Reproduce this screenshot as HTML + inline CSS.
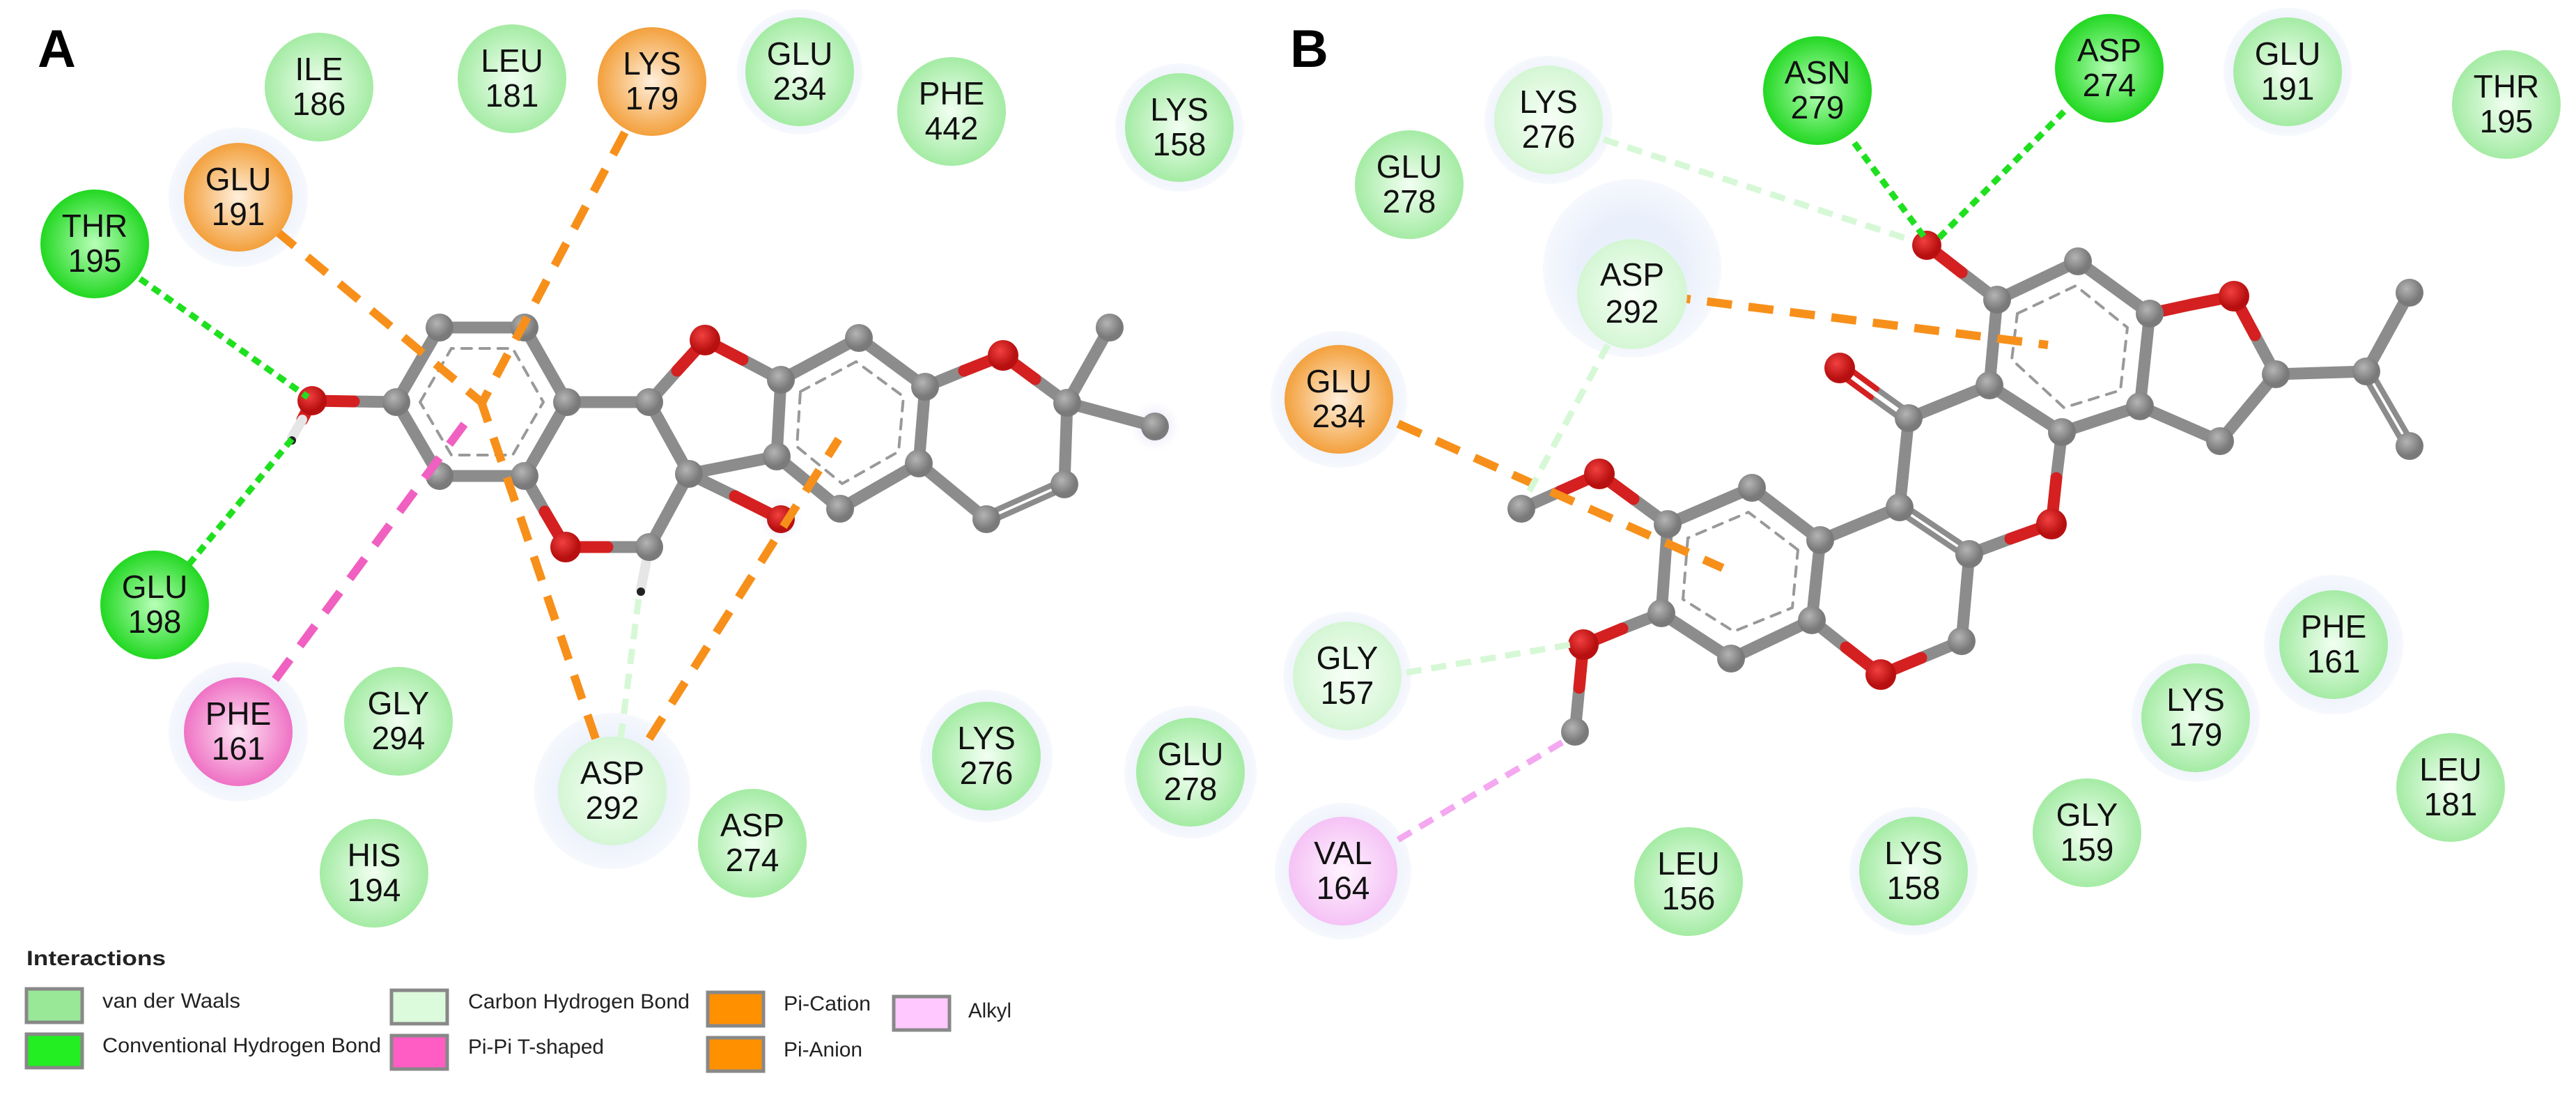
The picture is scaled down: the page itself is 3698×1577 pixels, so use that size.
<!DOCTYPE html>
<html><head><meta charset="utf-8"><style>
html,body{margin:0;padding:0;background:#fff;}
svg{display:block;}
.r text{font-family:"Liberation Sans",sans-serif;font-size:46px;fill:#111;text-anchor:middle;}
.lg{font-family:"Liberation Sans",sans-serif;font-size:30px;fill:#222;}
</style></head><body>
<svg width="3698" height="1577" viewBox="0 0 3698 1577" xmlns="http://www.w3.org/2000/svg">
<defs>
<radialGradient id="vdw"><stop offset="0" stop-color="#f2fff2"/><stop offset="1" stop-color="#a4eba4"/></radialGradient>
<radialGradient id="hb"><stop offset="0" stop-color="#b8ffb8"/><stop offset="1" stop-color="#22d822"/></radialGradient>
<radialGradient id="or"><stop offset="0" stop-color="#fff0dc"/><stop offset="1" stop-color="#f3a03c"/></radialGradient>
<radialGradient id="pk"><stop offset="0" stop-color="#fde4f4"/><stop offset="1" stop-color="#ef72c4"/></radialGradient>
<radialGradient id="lt"><stop offset="0" stop-color="#f8fff8"/><stop offset="1" stop-color="#d4f6d4"/></radialGradient>
<radialGradient id="al"><stop offset="0" stop-color="#fff4ff"/><stop offset="1" stop-color="#f5c2f5"/></radialGradient>
<radialGradient id="gy" cx="0.4" cy="0.35"><stop offset="0" stop-color="#b4b4b4"/><stop offset="1" stop-color="#7a7a7a"/></radialGradient>
<radialGradient id="rd" cx="0.4" cy="0.35"><stop offset="0" stop-color="#f24040"/><stop offset="1" stop-color="#b81010"/></radialGradient>
<radialGradient id="halo"><stop offset="0.6" stop-color="#eaf0fb"/><stop offset="1" stop-color="#f6f8fd"/></radialGradient>
<radialGradient id="glow"><stop offset="0" stop-color="#c8c8f4"/><stop offset="1" stop-color="#ffffff" stop-opacity="0"/></radialGradient>
</defs>

<!-- halos -->
<g fill="url(#halo)">
<circle cx="342" cy="283" r="100"/>
<circle cx="342" cy="1050" r="100"/>
<circle cx="879" cy="1135" r="112"/>
<circle cx="1416" cy="1085" r="95"/>
<circle cx="1709" cy="1108" r="95"/>
<circle cx="1693" cy="183" r="92"/>
<circle cx="1148" cy="103" r="90"/>
<circle cx="2343" cy="385" r="128"/>
<circle cx="2223" cy="172" r="92"/>
<circle cx="1922" cy="573" r="98"/>
<circle cx="1934" cy="970" r="92"/>
<circle cx="1928" cy="1250" r="98"/>
<circle cx="3284" cy="103" r="92"/>
<circle cx="3350" cy="925" r="100"/>
<circle cx="3152" cy="1030" r="92"/>
<circle cx="2747" cy="1250" r="92"/>
</g>
<circle cx="1658" cy="612" r="40" fill="url(#glow)"/>
<circle cx="1121" cy="745" r="36" fill="url(#glow)"/>

<!-- Ligand A -->
<g stroke-linecap="round" fill="none">
<g stroke="#8c8c8c" stroke-width="17">
<polyline points="569,577 631,470 753,470 814,577 753,683 631,683 569,577"/>
<line x1="508" y1="576" x2="569" y2="577"/>
<line x1="753" y1="683" x2="782" y2="734"/>
<line x1="872" y1="785" x2="932" y2="785"/>
<line x1="932" y1="785" x2="989" y2="680"/>
<line x1="814" y1="577" x2="932" y2="577"/>
<line x1="932" y1="577" x2="972" y2="532"/>
<line x1="1066" y1="516" x2="1121" y2="545"/>
<line x1="932" y1="577" x2="989" y2="680"/>
<line x1="989" y1="680" x2="1115" y2="655"/>
<line x1="989" y1="680" x2="1055" y2="712"/>
<polyline points="1121,545 1233,485 1328,555 1319,665 1206,730 1115,655 1121,545"/>
<line x1="1328" y1="555" x2="1384" y2="532"/>
<line x1="1486" y1="544" x2="1532" y2="578"/>
<line x1="1532" y1="578" x2="1593" y2="470"/>
<line x1="1532" y1="578" x2="1658" y2="612"/>
<line x1="1532" y1="578" x2="1528" y2="695"/>
<line x1="1416" y1="745" x2="1319" y2="665"/>
</g>
<g stroke="#8c8c8c" stroke-width="8">
<line x1="1530" y1="700" x2="1418" y2="750"/>
<line x1="1526" y1="689" x2="1414" y2="739"/>
</g>
<g stroke="#d42020" stroke-width="17">
<line x1="448" y1="575" x2="508" y2="576"/>
<line x1="782" y1="734" x2="812" y2="785"/>
<line x1="812" y1="785" x2="872" y2="785"/>
<line x1="972" y1="532" x2="1012" y2="488"/>
<line x1="1012" y1="488" x2="1066" y2="516"/>
<line x1="1055" y1="712" x2="1121" y2="745"/>
<line x1="1384" y1="532" x2="1440" y2="510"/>
<line x1="1440" y1="510" x2="1486" y2="544"/>
<line x1="448" y1="575" x2="434" y2="602"/>
</g>
<g stroke="#e6e6e6" stroke-width="14">
<line x1="434" y1="602" x2="419" y2="628"/>
<line x1="932" y1="785" x2="920" y2="845"/>
</g>
<g stroke="#999" stroke-width="4" stroke-dasharray="14 12">
<polygon points="603,577 648,500 736,500 780,577 736,653 648,653"/>
<polygon points="1149,562 1229,519 1297,569 1290,648 1209,694 1144,641"/>
</g>
</g>
<circle cx="419" cy="632" r="6" fill="#222"/>
<circle cx="920" cy="849" r="6" fill="#222"/>
<g fill="url(#gy)">
<circle cx="569" cy="577" r="20"/><circle cx="631" cy="470" r="20"/><circle cx="753" cy="470" r="20"/>
<circle cx="814" cy="577" r="20"/><circle cx="753" cy="683" r="20"/><circle cx="631" cy="683" r="20"/>
<circle cx="932" cy="785" r="20"/><circle cx="932" cy="577" r="20"/><circle cx="1121" cy="545" r="20"/>
<circle cx="1115" cy="655" r="20"/><circle cx="989" cy="680" r="20"/><circle cx="1233" cy="485" r="20"/>
<circle cx="1328" cy="555" r="20"/><circle cx="1319" cy="665" r="20"/><circle cx="1206" cy="730" r="20"/>
<circle cx="1532" cy="578" r="20"/><circle cx="1593" cy="470" r="20"/><circle cx="1658" cy="612" r="20"/>
<circle cx="1528" cy="695" r="20"/><circle cx="1416" cy="745" r="20"/>
</g>
<g fill="url(#rd)">
<circle cx="448" cy="575" r="21"/><circle cx="812" cy="785" r="22"/><circle cx="1012" cy="488" r="22"/>
<circle cx="1121" cy="745" r="20"/><circle cx="1440" cy="510" r="22"/>
</g>

<!-- Ligand B -->
<g stroke-linecap="round" fill="none">
<g stroke="#8c8c8c" stroke-width="17">
<line x1="2816" y1="391" x2="2867" y2="430"/>
<polyline points="3086,450 2983,375 2867,430 2856,553 2960,620 3072,583 3086,450"/>
<line x1="3237" y1="481" x2="3267" y2="537"/>
<line x1="3267" y1="537" x2="3187" y2="633"/>
<line x1="3187" y1="633" x2="3072" y2="583"/>
<line x1="3267" y1="537" x2="3397" y2="533"/>
<line x1="3397" y1="533" x2="3459" y2="420"/>
<line x1="2856" y1="553" x2="2740" y2="600"/>
<line x1="2740" y1="600" x2="2727" y2="728"/>
<line x1="2727" y1="728" x2="2613" y2="775"/>
<line x1="2960" y1="620" x2="2952" y2="686"/>
<line x1="2886" y1="773" x2="2827" y2="795"/>
<line x1="2827" y1="795" x2="2816" y2="920"/>
<line x1="2816" y1="920" x2="2758" y2="944"/>
<line x1="2650" y1="929" x2="2601" y2="890"/>
<polyline points="2613,775 2515,700 2394,752 2385,880 2485,945 2601,890 2613,775"/>
<line x1="2394" y1="752" x2="2345" y2="716"/>
<line x1="2240" y1="705" x2="2184" y2="730"/>
<line x1="2385" y1="880" x2="2329" y2="902"/>
<line x1="2267" y1="987" x2="2261" y2="1050"/>
</g>
<g stroke="#8c8c8c" stroke-width="8">
<line x1="3392" y1="536" x2="3454" y2="643"/>
<line x1="3402" y1="530" x2="3464" y2="637"/>
<line x1="2724" y1="733" x2="2824" y2="800"/>
<line x1="2730" y1="723" x2="2830" y2="790"/>
<line x1="2744" y1="594" x2="2694" y2="558"/>
<line x1="2736" y1="606" x2="2686" y2="570"/>
</g>
<g stroke="#d42020" stroke-width="8">
<line x1="2694" y1="558" x2="2645" y2="522"/>
<line x1="2686" y1="570" x2="2637" y2="534"/>
</g>
<g stroke="#d42020" stroke-width="17">
<line x1="2766" y1="352" x2="2816" y2="391"/>
<line x1="3086" y1="450" x2="3146" y2="437"/>
<line x1="3146" y1="437" x2="3207" y2="425"/>
<line x1="3207" y1="425" x2="3237" y2="481"/>
<line x1="2952" y1="686" x2="2945" y2="752"/>
<line x1="2945" y1="752" x2="2886" y2="773"/>
<line x1="2758" y1="944" x2="2700" y2="968"/>
<line x1="2700" y1="968" x2="2650" y2="929"/>
<line x1="2345" y1="716" x2="2296" y2="680"/>
<line x1="2296" y1="680" x2="2240" y2="705"/>
<line x1="2329" y1="902" x2="2273" y2="925"/>
<line x1="2273" y1="925" x2="2267" y2="987"/>
</g>
<g stroke="#999" stroke-width="4" stroke-dasharray="14 12">
<polygon points="2896,450 2980,410 3054,470 3044,560 2963,585 2888,516"/>
<polygon points="2581,789 2510,735 2423,772 2416,860 2489,906 2573,872"/>
</g>
</g>
<g fill="url(#gy)">
<circle cx="2867" cy="430" r="20"/><circle cx="2983" cy="375" r="20"/><circle cx="3086" cy="450" r="20"/>
<circle cx="3267" cy="537" r="20"/><circle cx="3187" cy="633" r="20"/><circle cx="3072" cy="583" r="20"/>
<circle cx="2960" cy="620" r="20"/><circle cx="2856" cy="553" r="20"/><circle cx="3397" cy="533" r="20"/>
<circle cx="3459" cy="420" r="20"/><circle cx="3459" cy="640" r="20"/><circle cx="2740" cy="600" r="20"/>
<circle cx="2727" cy="728" r="20"/><circle cx="2827" cy="795" r="20"/><circle cx="2816" cy="920" r="20"/>
<circle cx="2613" cy="775" r="20"/><circle cx="2515" cy="700" r="20"/><circle cx="2394" cy="752" r="20"/>
<circle cx="2385" cy="880" r="20"/><circle cx="2485" cy="945" r="20"/><circle cx="2601" cy="890" r="20"/>
<circle cx="2184" cy="730" r="20"/><circle cx="2261" cy="1050" r="20"/>
</g>
<g fill="url(#rd)">
<circle cx="2766" cy="352" r="21"/><circle cx="3207" cy="425" r="22"/><circle cx="2641" cy="528" r="22"/>
<circle cx="2945" cy="752" r="22"/><circle cx="2700" cy="968" r="22"/><circle cx="2296" cy="680" r="22"/>
<circle cx="2273" cy="925" r="22"/>
</g>

<!-- interaction lines -->
<g fill="none">
<g stroke="#1fe01f" stroke-width="9" stroke-dasharray="13 9">
<line x1="201" y1="400" x2="442" y2="570"/>
<line x1="271" y1="810" x2="419" y2="630"/>
<line x1="2662" y1="205" x2="2766" y2="345"/>
<line x1="2963" y1="160" x2="2780" y2="345"/>
</g>
<g stroke="#f7901a" stroke-width="12" stroke-dasharray="36 24">
<line x1="395" y1="330" x2="691" y2="577"/>
<line x1="855" y1="1060" x2="691" y2="577"/>
<line x1="897" y1="190" x2="691" y2="580"/>
<line x1="932" y1="1060" x2="1204" y2="630"/>
<line x1="2391" y1="425" x2="2940" y2="495"/>
<line x1="2007" y1="608" x2="2473" y2="815"/>
</g>
<g stroke="#f060c0" stroke-width="12" stroke-dasharray="36 24">
<line x1="395" y1="975" x2="673" y2="600"/>
</g>
<g stroke="#f4a8f0" stroke-width="9" stroke-dasharray="22 14">
<line x1="2007" y1="1205" x2="2243" y2="1065"/>
</g>
<g stroke="#d6f8d6" stroke-width="9" stroke-dasharray="22 14">
<line x1="891" y1="1060" x2="918" y2="850"/>
<line x1="2302" y1="200" x2="2745" y2="345"/>
<line x1="2308" y1="495" x2="2190" y2="715"/>
<line x1="2019" y1="965" x2="2255" y2="925"/>
</g>
</g>

<!-- residues A -->
<g class="r">
<circle cx="458" cy="125" r="78" fill="url(#vdw)"/><text x="458" y="115">ILE</text><text x="458" y="165">186</text>
<circle cx="735" cy="113" r="78" fill="url(#vdw)"/><text x="735" y="103">LEU</text><text x="735" y="153">181</text>
<circle cx="936" cy="117" r="78" fill="url(#or)"/><text x="936" y="107">LYS</text><text x="936" y="157">179</text>
<circle cx="1148" cy="103" r="78" fill="url(#vdw)"/><text x="1148" y="93">GLU</text><text x="1148" y="143">234</text>
<circle cx="1366" cy="160" r="78" fill="url(#vdw)"/><text x="1366" y="150">PHE</text><text x="1366" y="200">442</text>
<circle cx="1693" cy="183" r="78" fill="url(#vdw)"/><text x="1693" y="173">LYS</text><text x="1693" y="223">158</text>
<circle cx="342" cy="283" r="78" fill="url(#or)"/><text x="342" y="273">GLU</text><text x="342" y="323">191</text>
<circle cx="136" cy="350" r="78" fill="url(#hb)"/><text x="136" y="340">THR</text><text x="136" y="390">195</text>
<circle cx="222" cy="868" r="78" fill="url(#hb)"/><text x="222" y="858">GLU</text><text x="222" y="908">198</text>
<circle cx="342" cy="1050" r="78" fill="url(#pk)"/><text x="342" y="1040">PHE</text><text x="342" y="1090">161</text>
<circle cx="572" cy="1035" r="78" fill="url(#vdw)"/><text x="572" y="1025">GLY</text><text x="572" y="1075">294</text>
<circle cx="537" cy="1253" r="78" fill="url(#vdw)"/><text x="537" y="1243">HIS</text><text x="537" y="1293">194</text>
<circle cx="879" cy="1135" r="78" fill="url(#lt)"/><text x="879" y="1125">ASP</text><text x="879" y="1175">292</text>
<circle cx="1080" cy="1210" r="78" fill="url(#vdw)"/><text x="1080" y="1200">ASP</text><text x="1080" y="1250">274</text>
<circle cx="1416" cy="1085" r="78" fill="url(#vdw)"/><text x="1416" y="1075">LYS</text><text x="1416" y="1125">276</text>
<circle cx="1709" cy="1108" r="78" fill="url(#vdw)"/><text x="1709" y="1098">GLU</text><text x="1709" y="1148">278</text>
</g>
<!-- residues B -->
<g class="r">
<circle cx="2223" cy="172" r="78" fill="url(#lt)"/><text x="2223" y="162">LYS</text><text x="2223" y="212">276</text>
<circle cx="2023" cy="265" r="78" fill="url(#vdw)"/><text x="2023" y="255">GLU</text><text x="2023" y="305">278</text>
<circle cx="2609" cy="130" r="78" fill="url(#hb)"/><text x="2609" y="120">ASN</text><text x="2609" y="170">279</text>
<circle cx="3028" cy="98" r="78" fill="url(#hb)"/><text x="3028" y="88">ASP</text><text x="3028" y="138">274</text>
<circle cx="3284" cy="103" r="78" fill="url(#vdw)"/><text x="3284" y="93">GLU</text><text x="3284" y="143">191</text>
<circle cx="3598" cy="150" r="78" fill="url(#vdw)"/><text x="3598" y="140">THR</text><text x="3598" y="190">195</text>
<circle cx="2343" cy="422" r="79" fill="url(#lt)"/><text x="2343" y="410">ASP</text><text x="2343" y="463">292</text>
<circle cx="1922" cy="573" r="78" fill="url(#or)"/><text x="1922" y="563">GLU</text><text x="1922" y="613">234</text>
<circle cx="1934" cy="970" r="78" fill="url(#lt)"/><text x="1934" y="960">GLY</text><text x="1934" y="1010">157</text>
<circle cx="1928" cy="1250" r="78" fill="url(#al)"/><text x="1928" y="1240">VAL</text><text x="1928" y="1290">164</text>
<circle cx="2424" cy="1265" r="78" fill="url(#vdw)"/><text x="2424" y="1255">LEU</text><text x="2424" y="1305">156</text>
<circle cx="2747" cy="1250" r="78" fill="url(#vdw)"/><text x="2747" y="1240">LYS</text><text x="2747" y="1290">158</text>
<circle cx="2996" cy="1195" r="78" fill="url(#vdw)"/><text x="2996" y="1185">GLY</text><text x="2996" y="1235">159</text>
<circle cx="3152" cy="1030" r="78" fill="url(#vdw)"/><text x="3152" y="1020">LYS</text><text x="3152" y="1070">179</text>
<circle cx="3350" cy="925" r="78" fill="url(#vdw)"/><text x="3350" y="915">PHE</text><text x="3350" y="965">161</text>
<circle cx="3518" cy="1130" r="78" fill="url(#vdw)"/><text x="3518" y="1120">LEU</text><text x="3518" y="1170">181</text>
</g>

<!-- panel labels -->
<text x="54" y="96" font-family="Liberation Sans, sans-serif" font-weight="bold" font-size="76" fill="#000">A</text>
<text x="1852" y="96" font-family="Liberation Sans, sans-serif" font-weight="bold" font-size="76" fill="#000">B</text>

<!-- legend -->
<text x="38" y="1385" class="lg" font-weight="bold" font-size="30" textLength="200" lengthAdjust="spacingAndGlyphs">Interactions</text>
<g stroke="#888" stroke-width="5">
<rect x="38" y="1419" width="80" height="48" fill="#98e898"/>
<rect x="38" y="1484" width="80" height="48" fill="#22ee22"/>
<rect x="562" y="1421" width="80" height="48" fill="#dcfadc"/>
<rect x="562" y="1486" width="80" height="48" fill="#ff5cc4"/>
<rect x="1016" y="1424" width="80" height="48" fill="#ff9100"/>
<rect x="1016" y="1489" width="80" height="48" fill="#ff9100"/>
<rect x="1283" y="1430" width="80" height="48" fill="#ffc8ff"/>
</g>
<text x="147" y="1446" class="lg" textLength="198" lengthAdjust="spacingAndGlyphs">van der Waals</text>
<text x="147" y="1510" class="lg" textLength="400" lengthAdjust="spacingAndGlyphs">Conventional Hydrogen Bond</text>
<text x="672" y="1447" class="lg" textLength="318" lengthAdjust="spacingAndGlyphs">Carbon Hydrogen Bond</text>
<text x="672" y="1512" class="lg" textLength="195" lengthAdjust="spacingAndGlyphs">Pi-Pi T-shaped</text>
<text x="1125" y="1450" class="lg" textLength="125" lengthAdjust="spacingAndGlyphs">Pi-Cation</text>
<text x="1125" y="1516" class="lg" textLength="113" lengthAdjust="spacingAndGlyphs">Pi-Anion</text>
<text x="1390" y="1460" class="lg" textLength="62" lengthAdjust="spacingAndGlyphs">Alkyl</text>
</svg>
</body></html>
